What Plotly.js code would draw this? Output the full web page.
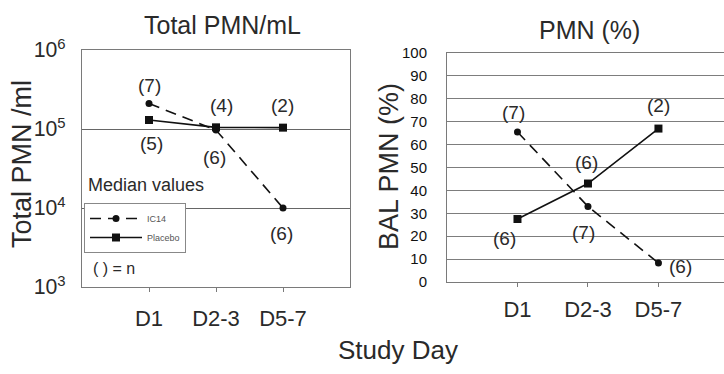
<!DOCTYPE html>
<html>
<head>
<meta charset="utf-8">
<script src="https://cdn.plot.ly/plotly-3.0.1.min.js"></script>
<style>html,body{margin:0;padding:0;background:#fff;}#chart{width:724px;height:374px;}</style>
</head>
<body>
<div id="chart"></div>
<script>
// ---- data ----
var days = ["D1", "D2-3", "D5-7"];
var totalIC14 = [210000, 97000, 10000];
var totalPlacebo = [130000, 105000, 104000];
var pctIC14 = [65.5, 33, 8.3];
var pctPlacebo = [27.5, 43, 67];
var nTotalIC14 = ["(7)", "(6)", "(6)"];
var nTotalPlacebo = ["(5)", "(4)", "(2)"];
var nPctIC14 = ["(7)", "(7)", "(6)"];
var nPctPlacebo = ["(6)", "(6)", "(2)"];
var seriesNames = ["IC14", "Placebo"];

var FONT = "Liberation Sans, Arial, sans-serif";
var TXT = "#2a2a2a";

var dashStyle = "11px,7px";
var traces = [
  {x: days, y: totalIC14, xaxis: "x", yaxis: "y", name: seriesNames[0], mode: "lines+markers",
   line: {color: "#111", width: 1.6, dash: dashStyle}, marker: {symbol: "circle", size: 7, color: "#111"}},
  {x: days, y: totalPlacebo, xaxis: "x", yaxis: "y", name: seriesNames[1], mode: "lines+markers",
   line: {color: "#111", width: 1.6}, marker: {symbol: "square", size: 8, color: "#111"}},
  {x: days, y: pctIC14, xaxis: "x2", yaxis: "y2", name: seriesNames[0], mode: "lines+markers", showlegend: false,
   line: {color: "#111", width: 1.6, dash: dashStyle}, marker: {symbol: "circle", size: 7, color: "#111"}},
  {x: days, y: pctPlacebo, xaxis: "x2", yaxis: "y2", name: seriesNames[1], mode: "lines+markers", showlegend: false,
   line: {color: "#111", width: 1.6}, marker: {symbol: "square", size: 8, color: "#111"}}
];

var annotations = [];
function nLabel(xa, ya, xv, yv, text, xs, ys, logy) {
  annotations.push({xref: xa, yref: ya, x: xv, y: logy ? Math.log10(yv) : yv, text: text,
    xanchor: "center", yanchor: "middle",
    showarrow: false, xshift: xs, yshift: ys, font: {family: FONT, size: 19, color: TXT}});
}
// left panel n labels
nLabel("x", "y", days[0], totalIC14[0], nTotalIC14[0], 0, 18, true);
nLabel("x", "y", days[0], totalPlacebo[0], nTotalPlacebo[0], 2, -23, true);
nLabel("x", "y", days[1], totalPlacebo[1], nTotalPlacebo[1], 5, 22, true);
nLabel("x", "y", days[1], totalIC14[1], nTotalIC14[1], -2, -27, true);
nLabel("x", "y", days[2], totalPlacebo[2], nTotalPlacebo[2], -1, 22, true);
nLabel("x", "y", days[2], totalIC14[2], nTotalIC14[2], -2, -25, true);
// right panel n labels
nLabel("x2", "y2", days[0], pctIC14[0], nPctIC14[0], -4, 20, false);
nLabel("x2", "y2", days[0], pctPlacebo[0], nPctPlacebo[0], -13, -19, false);
nLabel("x2", "y2", days[1], pctPlacebo[1], nPctPlacebo[1], -1, 21, false);
nLabel("x2", "y2", days[1], pctIC14[1], nPctIC14[1], -4, -26, false);
nLabel("x2", "y2", days[2], pctPlacebo[2], nPctPlacebo[2], 0, 23, false);
nLabel("x2", "y2", days[2], pctIC14[2], nPctIC14[2], 22, -4, false);

function px(xp) { return xp / 724; }
function py(yp) { return 1 - yp / 374; }

function txt(x, y, text, size, extra) {
  var a = {xref: "paper", yref: "paper", x: px(x), y: py(y), text: text, showarrow: false,
           xanchor: "center", yanchor: "middle", font: {family: FONT, size: size, color: TXT}};
  for (var k in extra) a[k] = extra[k];
  annotations.push(a);
}
txt(222, 25, "Total PMN/mL", 25);
txt(589, 30, "PMN (%)", 25);
txt(22, 164, "Total PMN /ml", 27, {textangle: -90});
txt(389, 167, "BAL PMN (%)", 27, {textangle: -90});
txt(398, 350, "Study Day", 26);
txt(86, 185, "Median values", 18, {xanchor: "left"});
txt(91, 268, "( ) = n", 16, {xanchor: "left"});

var gridC = "#7d7d7d", lineC = "#7a7a7a";
var layout = {
  width: 724, height: 374,
  margin: {l: 0, r: 0, t: 0, b: 0},
  paper_bgcolor: "#fff", plot_bgcolor: "#fff",
  font: {family: FONT, color: TXT},
  showlegend: true,
  legend: {x: px(84), y: py(203), xanchor: "left", yanchor: "top", bgcolor: "#fff",
           bordercolor: "#888", borderwidth: 1, font: {family: FONT, size: 9, color: "#555"},
           itemwidth: 52, tracegroupgap: 0},
  xaxis: {domain: [px(82), px(350)], type: "category", range: [-1, 3], showgrid: false,
          showline: true, linecolor: lineC, linewidth: 1, mirror: true, ticks: "outside", ticklen: 4,
          tickcolor: lineC, tickfont: {family: FONT, size: 22, color: TXT}, ticklabelstandoff: 8, zeroline: false, fixedrange: true},
  yaxis: {domain: [py(287), py(50)], type: "log", range: [3, 6], dtick: 1, exponentformat: "power",
          showgrid: true, gridcolor: "#666", gridwidth: 1, showline: true, linecolor: lineC, mirror: true,
          ticks: "", tickfont: {family: FONT, size: 17, color: TXT}, ticklabelstandoff: 12, zeroline: false, fixedrange: true},
  xaxis2: {domain: [px(447), 1], type: "category", range: [-1, 2.93], showgrid: false, anchor: "y2",
          showline: true, linecolor: lineC, linewidth: 1, mirror: true, ticks: "outside", ticklen: 4,
          tickcolor: lineC, tickfont: {family: FONT, size: 22, color: TXT}, ticklabelstandoff: 4, zeroline: false, fixedrange: true},
  yaxis2: {domain: [py(282), py(53)], range: [0, 100], dtick: 10, anchor: "x2",
          showgrid: true, gridcolor: gridC, gridwidth: 1, showline: true, linecolor: lineC, mirror: true,
          ticks: "", tickfont: {family: FONT, size: 15, color: "#111"}, ticklabelstandoff: 16, zeroline: false, fixedrange: true},
  annotations: annotations
};

Plotly.newPlot("chart", traces, layout, {displayModeBar: false, staticPlot: true});
</script>
</body>
</html>
